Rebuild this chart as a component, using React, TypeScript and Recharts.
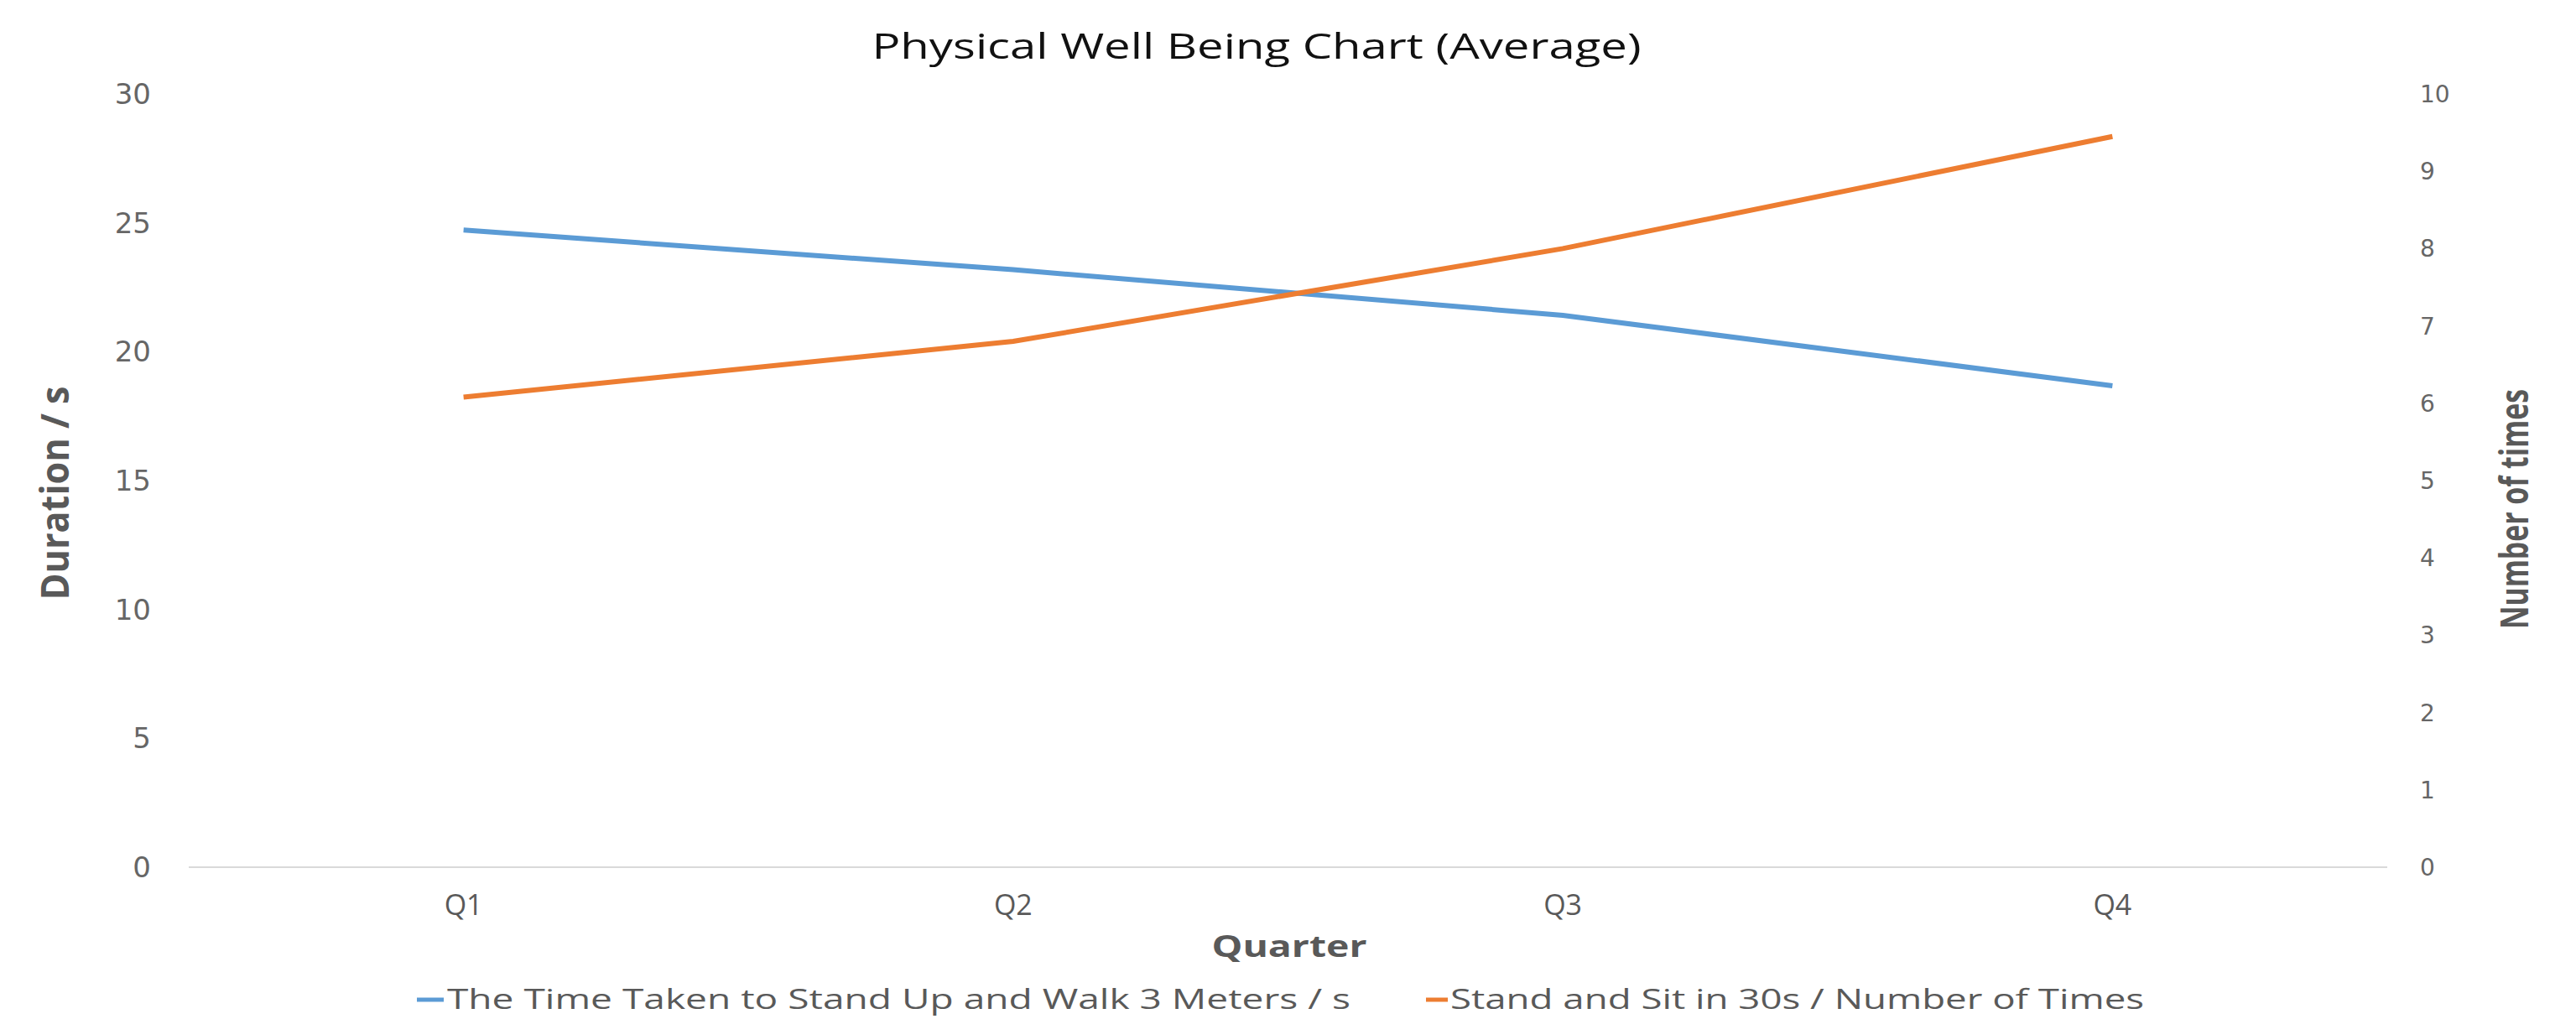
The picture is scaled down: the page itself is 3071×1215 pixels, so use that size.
import React from 'react';
import { ComposedChart, Line, XAxis, YAxis, Customized } from 'recharts';

const quarters = ['Q1', 'Q2', 'Q3', 'Q4'];
const walkTime = [24.72, 23.18, 21.41, 18.68];
const standSit = [6.08, 6.8, 8.0, 9.45];
const leftTicks = [0, 5, 10, 15, 20, 25, 30];
const rightTicks = [0, 1, 2, 3, 4, 5, 6, 7, 8, 9, 10];

const seriesNames = {
  walk: 'The Time Taken to Stand Up and Walk 3 Meters / s',
  sit: 'Stand and Sit in 30s / Number of Times',
};
const BLUE = '#5B9BD5';
const ORANGE = '#ED7D31';
const GREY = '#595959';

const data = quarters.map((q, i) => ({ quarter: q, walk: walkTime[i], sit: standSit[i] }));

const Decorations = () => (
  <g>
    <text x={1498} y={70} textAnchor="middle" fontFamily="Open Sans" fontSize={42} fill="#111" textLength={917} lengthAdjust="spacingAndGlyphs">
      Physical Well Being Chart (Average)
    </text>
    <g transform="translate(65,588) scale(1.15,1) rotate(-90)">
      <text x={0} y={0} dy="0.36em" textAnchor="middle" fontFamily="Open Sans" fontWeight="bold" fontSize={40} fill={GREY} textLength={255} lengthAdjust="spacingAndGlyphs">
        Duration / s
      </text>
    </g>
    <g transform="translate(2997,607) scale(1.15,1) rotate(-90)">
      <text x={0} y={0} dy="0.36em" textAnchor="middle" fontFamily="Open Sans" fontWeight="bold" fontSize={40} fill={GREY} textLength={286} lengthAdjust="spacingAndGlyphs">
        Number of times
      </text>
    </g>
    <text x={1537} y={1141} textAnchor="middle" fontFamily="Open Sans" fontWeight="bold" fontSize={36} fill={GREY} textLength={185} lengthAdjust="spacingAndGlyphs">
      Quarter
    </text>
    <line x1={497} x2={529} y1={1192} y2={1192} stroke={BLUE} strokeWidth={5} />
    <text x={533} y={1203} fontFamily="Open Sans" fontSize={33} fill={GREY} textLength={1077} lengthAdjust="spacingAndGlyphs">
      {seriesNames.walk}
    </text>
    <line x1={1700} x2={1726} y1={1192} y2={1192} stroke={ORANGE} strokeWidth={5} />
    <text x={1729} y={1203} fontFamily="Open Sans" fontSize={33} fill={GREY} textLength={827} lengthAdjust="spacingAndGlyphs">
      {seriesNames.sit}
    </text>
  </g>
);

export default function App() {
  return (
    <div style={{ position: 'absolute', left: 0, top: 0, width: 3071, height: 1215, background: '#fff' }}>
      <ComposedChart width={3071} height={1215} data={data} margin={{ top: 112, right: 0, bottom: 0, left: 0 }}>
        <XAxis
          dataKey="quarter"
          scale="band"
          height={181}
          axisLine={{ stroke: '#d9d9d9', strokeWidth: 2 }}
          tickLine={false}
          tickSize={0}
          tickMargin={33}
          tick={{ fill: GREY, fontSize: 34, fontFamily: 'Open Sans' }}
        />
        <YAxis
          yAxisId="left"
          width={225}
          domain={[0, 30]}
          ticks={leftTicks}
          axisLine={false}
          tickLine={false}
          tickSize={0}
          tickMargin={45}
          tick={{ fill: '#666', fontSize: 34, fontFamily: 'DejaVu Sans' }}
        />
        <YAxis
          yAxisId="right"
          orientation="right"
          width={225}
          domain={[0, 10]}
          ticks={rightTicks}
          axisLine={false}
          tickLine={false}
          tickSize={0}
          tickMargin={39}
          tick={{ fill: '#666', fontSize: 28, fontFamily: 'DejaVu Sans' }}
        />
        <Line yAxisId="left" type="linear" dataKey="walk" name={seriesNames.walk} stroke={BLUE} strokeWidth={6} dot={false} isAnimationActive={false} />
        <Line yAxisId="right" type="linear" dataKey="sit" name={seriesNames.sit} stroke={ORANGE} strokeWidth={6} dot={false} isAnimationActive={false} />
        <Customized component={Decorations} />
      </ComposedChart>
    </div>
  );
}
